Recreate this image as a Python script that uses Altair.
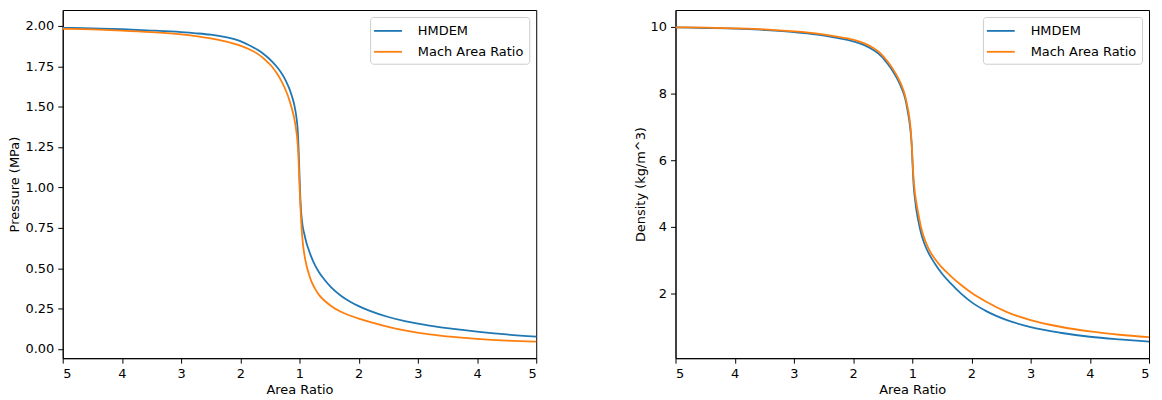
import altair as alt
import pandas as pd

series_names = ["HMDEM", "Mach Area Ratio"]
series_colors = ["#1f77b4", "#ff7f0e"]

x_tick_values = [-4, -3, -2, -1, 0, 1, 2, 3, 4]
x_tick_labels = ["5", "4", "3", "2", "1", "2", "3", "4", "5"]

# Pressure panel
p_x = [-4, -3.5, -3, -2.5, -2, -1.75, -1.5, -1.25, -1, -0.85,
       -0.7, -0.58, -0.47, -0.38, -0.3, -0.23, -0.17, -0.13, -0.09, -0.05,
       -0.035, -0.022, -0.01, 0, 0.015, 0.03, 0.05, 0.08, 0.12, 0.16,
       0.2, 0.26, 0.33, 0.42, 0.54, 0.7, 0.85, 1.0, 1.2, 1.5,
       1.8, 2.2, 2.6, 3.0, 3.5, 4.0]
p_hmdem = [1.988, 1.984, 1.979, 1.971, 1.961, 1.954, 1.945, 1.930, 1.905, 1.88,
           1.85, 1.818, 1.782, 1.745, 1.705, 1.66, 1.61, 1.567, 1.515, 1.43,
           1.38, 1.30, 1.19, 1.08, 0.93, 0.84, 0.77, 0.715, 0.655, 0.61,
           0.57, 0.52, 0.475, 0.43, 0.38, 0.33, 0.294, 0.265, 0.234, 0.198,
           0.171, 0.145, 0.124, 0.107, 0.09, 0.077]
p_mach = [1.982, 1.978, 1.971, 1.961, 1.947, 1.936, 1.922, 1.904, 1.877, 1.855,
          1.825, 1.79, 1.75, 1.705, 1.655, 1.60, 1.54, 1.49, 1.43, 1.34,
          1.29, 1.22, 1.12, 1.02, 0.89, 0.78, 0.68, 0.59, 0.515, 0.462,
          0.42, 0.375, 0.335, 0.30, 0.265, 0.23, 0.207, 0.188, 0.166, 0.137,
          0.114, 0.091, 0.075, 0.063, 0.052, 0.045]
p_ticks = [0.0, 0.25, 0.5, 0.75, 1.0, 1.25, 1.5, 1.75, 2.0]

# Density panel
d_x = [-4, -3.5, -3, -2.5, -2, -1.6, -1.3, -1, -0.8, -0.65,
       -0.52, -0.41, -0.32, -0.24, -0.17, -0.12, -0.08, -0.05, -0.025, -0.01,
       0, 0.012, 0.025, 0.045, 0.07, 0.1, 0.15, 0.21, 0.28, 0.38,
       0.5, 0.65, 0.82, 1.0, 1.25, 1.6, 2.0, 2.5, 3.0, 3.5, 4.0]
d_hmdem = [9.99, 9.97, 9.95, 9.91, 9.85, 9.77, 9.68, 9.57, 9.45, 9.3,
           9.12, 8.88, 8.65, 8.4, 8.12, 7.85, 7.5, 7.18, 6.8, 6.45,
           6.1, 5.6, 5.2, 4.85, 4.5, 4.2, 3.8, 3.47, 3.2, 2.9,
           2.6, 2.3, 2.0, 1.74, 1.47, 1.2, 0.99, 0.82, 0.70, 0.62, 0.556]
d_mach = [9.99, 9.98, 9.96, 9.93, 9.87, 9.80, 9.72, 9.62, 9.50, 9.36,
          9.18, 8.95, 8.72, 8.47, 8.2, 7.93, 7.6, 7.3, 6.9, 6.5,
          6.15, 5.72, 5.4, 5.02, 4.72, 4.42, 3.97, 3.62, 3.33, 3.04,
          2.78, 2.52, 2.26, 2.02, 1.75, 1.44, 1.20, 1.00, 0.86, 0.76, 0.69]
d_ticks = [2, 4, 6, 8, 10]


def long_df(xs, a, b):
    rows = []
    for xv, v in zip(xs, a):
        rows.append({"x": xv, "v": v, "series": series_names[0]})
    for xv, v in zip(xs, b):
        rows.append({"x": xv, "v": v, "series": series_names[1]})
    return pd.DataFrame(rows)


label_expr = "[" + ",".join("'" + s + "'" for s in x_tick_labels) + "][datum.value + 4]"

FONT = "DejaVu Sans"


def panel(df, ytitle, ydomain, yticks, yfmt):
    return alt.Chart(df).mark_line(strokeWidth=1.8, interpolate="monotone").encode(
        x=alt.X("x:Q",
                scale=alt.Scale(domain=[-4, 4], nice=False, zero=False),
                axis=alt.Axis(values=x_tick_values, labelExpr=label_expr,
                              title="Area Ratio", grid=False)),
        y=alt.Y("v:Q",
                scale=alt.Scale(domain=ydomain, nice=False, zero=False),
                axis=alt.Axis(values=yticks, format=yfmt, title=ytitle, grid=False)),
        color=alt.Color("series:N",
                        scale=alt.Scale(domain=series_names, range=series_colors),
                        sort=series_names,
                        legend=alt.Legend(title=None, orient="top-right", offset=7,
                                          symbolType="M-1.75,0H1.75", symbolSize=256,
                                          symbolOffset=4,
                                          symbolStrokeWidth=1.8, labelOffset=21,
                                          rowPadding=5, padding=5,
                                          fillColor="white", strokeColor="#cccccc",
                                          cornerRadius=3, labelFont=FONT,
                                          labelFontSize=13, labelColor="black")),
    ).properties(width=476, height=350)


left = panel(long_df(p_x, p_hmdem, p_mach), "Pressure (MPa)", [-0.057, 2.098], p_ticks, ".2f")
right = panel(long_df(d_x, d_hmdem, d_mach), "Density (kg/m^3)", [0.056, 10.51], d_ticks, "d")

chart = alt.hconcat(left, right, spacing=140, bounds="flush").resolve_scale(
    color="independent"
).properties(padding=0).configure_view(
    stroke="black", strokeWidth=1
).configure_axis(
    domainColor="black", tickColor="black", tickSize=5, labelPadding=4,
    labelFont=FONT, labelFontSize=13, labelColor="black",
    titleFont=FONT, titleFontSize=13, titleFontWeight="normal", titleColor="black",
    titlePadding=3
)

chart.save("out.html", embed_options={"renderer": "svg", "actions": False})
